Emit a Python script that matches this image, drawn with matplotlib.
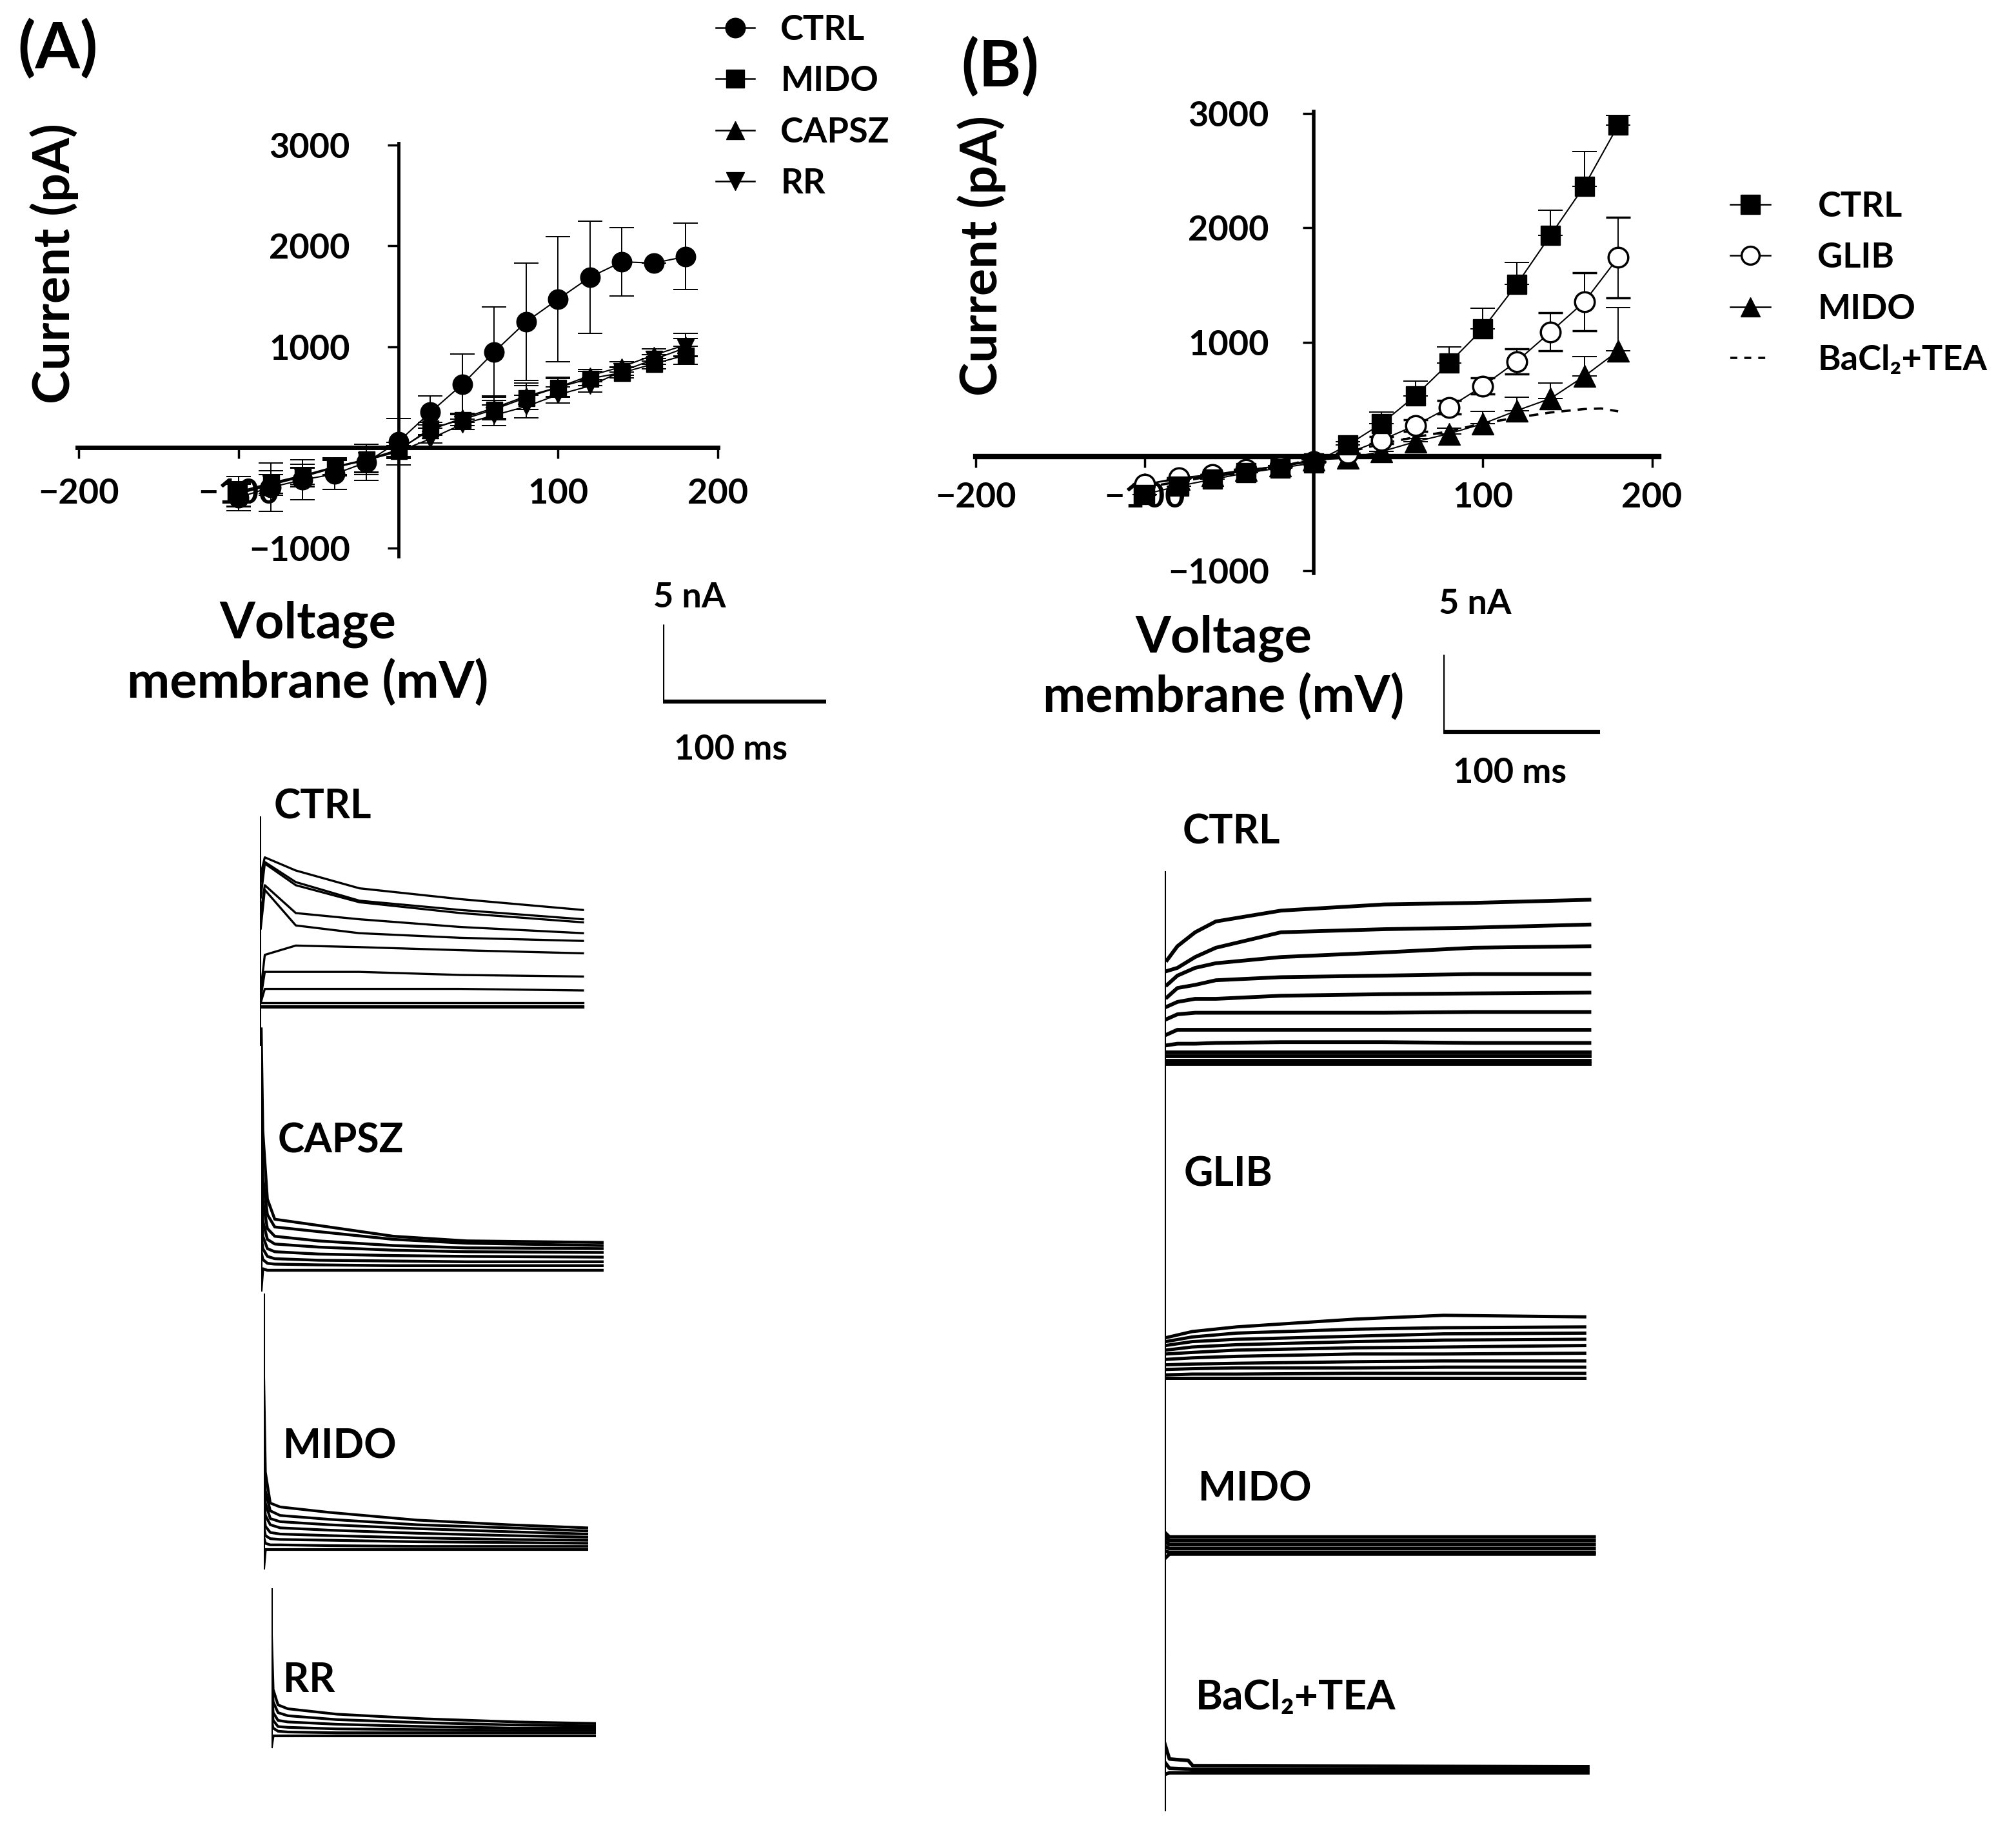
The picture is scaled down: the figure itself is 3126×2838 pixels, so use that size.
import matplotlib
matplotlib.use("Agg")
import matplotlib.pyplot as plt
from matplotlib.lines import Line2D

plt.rcParams['font.family'] = ['Lato', 'DejaVu Sans']
plt.rcParams['font.weight'] = 'bold'

W, H = 3126, 2838

# ---------------- I-V data, panel A (mV, pA)
volt_a = [-100, -80, -60, -40, -20, 0, 20, 40, 60, 80, 100, 120, 140, 160, 180]
ctrl_a = [-495, -394, -320, -262, -146, 58, 350, 627, 948, 1248, 1472, 1691, 1843, 1831, 1895]
ctrl_a_err = [130, 240, 200, 150, 180, 230, 160, 300, 450, 585, 620, 555, 340, 0, 330]
mido_a = [-437, -350, -277, -190, -117, -29, 190, 277, 379, 496, 598, 685, 743, 831, 918]
mido_a_err = [150, 120, 110, 90, 150, 80, 60, 60, 90, 120, 90, 70, 50, 50, 90]
capsz_a = [-460, -370, -290, -200, -120, -20, 175, 292, 394, 510, 598, 714, 802, 918, 1020]
capsz_a_err = [120, 100, 90, 80, 130, 70, 50, 40, 120, 130, 100, 60, 50, 60, 110]
rr_a = [-450, -360, -285, -195, -125, -40, 87, 233, 321, 408, 525, 612, 758, 875, 991]
rr_a_err = [100, 90, 80, 70, 120, 60, 40, 50, 100, 110, 80, 60, 40, 50, 90]

# ---------------- I-V data, panel B
volt_b = [-100, -80, -60, -40, -20, 0, 20, 40, 60, 80, 100, 120, 140, 160, 180]
ctrl_b = [-330, -258, -200, -143, -100, -57, 100, 287, 530, 817, 1117, 1504, 1934, 2364, 2894]
ctrl_b_err = [0, 0, 0, 0, 0, 0, 30, 100, 130, 143, 178, 192, 220, 300, 86]
glib_b = [-244, -186, -158, -115, -86, -43, 29, 143, 272, 430, 616, 831, 1089, 1352, 1739]
glib_b_err = [0, 0, 0, 0, 0, 0, 0, 30, 50, 60, 72, 109, 166, 252, 352]
mido_b = [-240, -200, -165, -120, -80, -30, -14, 43, 129, 200, 287, 401, 507, 702, 923]
mido_b_err = [0, 0, 0, 0, 0, 0, 0, 0, 30, 50, 109, 115, 138, 172, 381]
volt_bacl = [-100, -80, -60, -40, -20, 0, 20, 40, 60, 80, 100, 120, 140, 160, 170, 180]
bacl_b = [-270, -220, -170, -140, -90, -20, 40, 110, 170, 220, 290, 340, 385, 415, 420, 395]

# ---------------- current traces (ms, nA)
a_ctrl_t = [0.5, 3, 22, 61, 123, 198]
a_ctrl_i = [[8.5, 9.6, 8.75, 7.6, 6.9, 6.2],
            [8.0, 9.3, 8.0, 6.8, 6.2, 5.6],
            [7.0, 9.2, 7.8, 6.7, 6.0, 5.4],
            [6.0, 7.8, 6.0, 5.6, 5.1, 4.7],
            [5.0, 7.5, 5.2, 4.7, 4.4, 4.2],
            [1.0, 3.3, 3.9, 3.8, 3.6, 3.4],
            [0.5, 2.2, 2.2, 2.2, 2.0, 1.9],
            [0.2, 1.1, 1.1, 1.1, 1.1, 1.0],
            [0.2, 0.2, 0.2, 0.2, 0.2, 0.2],
            [0.0, 0.0, 0.0, 0.0, 0.0, 0.0],
            [-0.1, -0.1, -0.1, -0.1, -0.1, -0.1]]
a_capsz_t = [0, 1, 3.8, 8.3, 35, 81, 126, 209]
a_capsz_i = [[15.6, 9, 4.6, 3.3, 2.9, 2.2, 1.9, 1.8],
             [10, 6, 3.6, 2.8, 2.5, 2.0, 1.75, 1.6],
             [7, 4.5, 2.7, 2.2, 1.9, 1.6, 1.45, 1.4],
             [5, 3.2, 2.0, 1.7, 1.5, 1.3, 1.2, 1.15],
             [3.5, 2.2, 1.4, 1.2, 1.05, 0.95, 0.9, 0.85],
             [2.2, 1.4, 0.9, 0.75, 0.65, 0.6, 0.55, 0.55],
             [1.2, 0.7, 0.45, 0.4, 0.35, 0.3, 0.3, 0.3],
             [-1.2, 0.1, 0, 0, 0, 0, 0, 0]]
a_mido_t = [0, 1, 4, 10, 40, 94, 150, 198]
a_mido_i = [[11, 5, 3, 2.75, 2.4, 1.9, 1.6, 1.4],
            [7, 3.8, 2.5, 2.2, 1.95, 1.6, 1.4, 1.2],
            [5, 3, 2.0, 1.8, 1.6, 1.35, 1.15, 1.0],
            [3.5, 2.2, 1.6, 1.4, 1.25, 1.05, 0.9, 0.8],
            [2.5, 1.5, 1.1, 1.0, 0.9, 0.75, 0.65, 0.6],
            [1.5, 0.9, 0.7, 0.65, 0.6, 0.5, 0.45, 0.4],
            [0.8, 0.4, 0.3, 0.3, 0.25, 0.2, 0.2, 0.2],
            [-1.2, 0, 0, 0, 0, 0, 0, 0]]
a_rr_t = [0, 1, 4, 10, 40, 94, 150, 198]
a_rr_i = [[6.4, 3, 2.0, 1.75, 1.4, 1.1, 0.9, 0.8],
          [4.5, 2.2, 1.5, 1.3, 1.05, 0.85, 0.7, 0.65],
          [3, 1.5, 1.0, 0.9, 0.75, 0.6, 0.5, 0.5],
          [2, 1.0, 0.6, 0.55, 0.45, 0.4, 0.35, 0.35],
          [1, 0.5, 0.3, 0.25, 0.2, 0.2, 0.2, 0.2],
          [-0.7, 0, 0, 0, 0, 0, 0, 0]]

b_ctrl_t = [1.5, 8.1, 19.4, 32.6, 74.2, 140, 197, 271]
b_ctrl_i = [[6.5, 7.4, 8.3, 9.0, 9.7, 10.1, 10.2, 10.4],
            [5.8, 6.0, 6.7, 7.3, 8.3, 8.5, 8.6, 8.8],
            [4.9, 5.5, 6.0, 6.3, 6.7, 7.0, 7.3, 7.4],
            [4.1, 4.7, 4.9, 5.2, 5.4, 5.5, 5.6, 5.6],
            [3.5, 3.8, 4.0, 4.0, 4.2, 4.3, 4.35, 4.4],
            [2.7, 3.0, 3.1, 3.1, 3.1, 3.1, 3.15, 3.15],
            [1.7, 2.0, 2.0, 2.0, 2.0, 2.0, 2.0, 2.0],
            [1.0, 1.1, 1.1, 1.15, 1.2, 1.2, 1.15, 1.15],
            [0.55, 0.55, 0.55, 0.55, 0.55, 0.55, 0.55, 0.55],
            [0.3, 0.3, 0.3, 0.3, 0.3, 0.3, 0.3, 0.3],
            [0, 0, 0, 0, 0, 0, 0, 0],
            [-0.2, -0.2, -0.2, -0.2, -0.2, -0.2, -0.2, -0.2]]
b_glib_t = [0.6, 17.5, 45.8, 121, 178, 268]
b_glib_i = [[2.6, 3.0, 3.3, 3.8, 4.05, 3.95],
            [2.35, 2.65, 2.9, 3.15, 3.25, 3.3],
            [2.1, 2.35, 2.5, 2.7, 2.85, 2.9],
            [1.8, 2.0, 2.15, 2.35, 2.45, 2.5],
            [1.55, 1.65, 1.8, 1.95, 2.0, 2.1],
            [1.2, 1.3, 1.4, 1.55, 1.55, 1.6],
            [0.85, 0.9, 0.95, 1.05, 1.1, 1.1],
            [0.55, 0.6, 0.65, 0.65, 0.7, 0.7],
            [0.2, 0.25, 0.25, 0.3, 0.3, 0.3],
            [0, 0, 0, 0, 0, 0]]
b_mido_t = [0, 3, 274]
b_mido_i = [[1.4, 1.1, 1.1],
            [1.1, 0.85, 0.85],
            [0.8, 0.6, 0.6],
            [0.5, 0.35, 0.35],
            [0.2, 0.1, 0.1],
            [-0.3, 0, 0]]
b_bacl_t = [0, 3, 15, 18, 270]
b_bacl_i = [[1.8, 0.8, 0.7, 0.35, 0.3],
            [0.6, 0.2, 0.15, 0.1, 0.1],
            [-0.2, -0.1, -0.1, -0.1, -0.1]]

# capacitive transient at step onset: (top, bottom) in nA
a_spikes = [(12.2, -2.5), (15.6, -1.3), (16.5, -1.2), (9.5, -0.7)]
b_spikes = [(12.2, -14.4), (6.1, -6.8), (4.6, -6.3), (7.8, -2.5)]

scale_ms = 100
scale_na = 5

fig = plt.figure(figsize=(W / 100, H / 100), dpi=100)


def px_axes(left, top, right, bottom):
    return fig.add_axes([left / W, 1 - bottom / H, (right - left) / W, (bottom - top) / H])


def ftext(x, y, s, size, ha='left', va='center', **kw):
    fig.text(x / W, 1 - y / H, s, fontsize=size, ha=ha, va=va, fontweight='bold', **kw)


def iv_axes(box, xlim, ylim, xw, yw, ypad, xpad):
    ax = px_axes(*box)
    ax.set_xlim(xlim)
    ax.set_ylim(ylim)
    ax.patch.set_alpha(0)
    ax.spines['top'].set_visible(False)
    ax.spines['right'].set_visible(False)
    ax.spines['left'].set_position(('data', 0))
    ax.spines['bottom'].set_position(('data', 0))
    ax.spines['bottom'].set_linewidth(xw)
    ax.spines['left'].set_linewidth(yw)
    ax.set_xticks([-200, -100, 100, 200])
    ax.set_yticks([-1000, 1000, 2000, 3000])
    ax.tick_params(direction='out', length=12, width=2.5, labelsize=39)
    ax.tick_params(axis='y', pad=ypad)
    ax.tick_params(axis='x', pad=xpad)
    return ax


def trace_axes(x0, y0, px_ms, px_na):
    # x0, y0: figure pixel of t=0, I=0
    tmax, imin, imax = 300, -16, 18
    ax = px_axes(x0, y0 - imax * px_na, x0 + tmax * px_ms, y0 - imin * px_na)
    ax.set_xlim(0, tmax)
    ax.set_ylim(imin, imax)
    ax.axis('off')
    return ax


def draw_traces(ax, t, traces, spike, lw):
    for tr in traces:
        ax.plot(t, tr, color='black', lw=lw, solid_joinstyle='round')
    ax.plot([0, 0], list(spike), color='black', lw=2.2)


# ================= Panel A I-V
axA = iv_axes((120, 222, 1113, 863), (-201, 200), (-1080, 3020), 5, 3.5, 42, 22)
ekw = dict(color='black', lw=1.5, elinewidth=1.4, capsize=14, capthick=1.4,
           zorder=3, clip_on=False)
axA.errorbar(volt_a, mido_a, yerr=mido_a_err, fmt='-s', ms=18, **ekw)
axA.errorbar(volt_a, capsz_a, yerr=capsz_a_err, fmt='-^', ms=19, **ekw)
axA.errorbar(volt_a, rr_a, yerr=rr_a_err, fmt='-v', ms=19, **ekw)
axA.errorbar(volt_a, ctrl_a, yerr=ctrl_a_err, fmt='-o', ms=22, **ekw)

hA = [Line2D([], [], color='black', lw=1.8, marker=m, ms=ms)
      for m, ms in [('o', 22), ('s', 20), ('^', 20), ('v', 20)]]
axA.legend(hA, ['CTRL', 'MIDO', 'CAPSZ', 'RR'], loc='upper left',
           bbox_to_anchor=(1110 / W, 1 - 22 / H), bbox_transform=fig.transFigure,
           frameon=False, fontsize=39, handlelength=1.1, handletextpad=0.75,
           labelspacing=0.56, borderpad=0, borderaxespad=0)

# ================= Panel B I-V
axB = iv_axes((1513, 173, 2572, 889), (-200, 204), (-1020, 3015), 6, 4, 38, 16)
axB.plot(volt_bacl, bacl_b, color='black', lw=2.6, ls=(0, (4, 3)), zorder=3)
axB.errorbar(volt_b, mido_b, yerr=[[0] * len(mido_b_err), mido_b_err], fmt='-^', ms=24, **ekw)
axB.errorbar(volt_b, glib_b, yerr=glib_b_err, fmt='-o', ms=22, mfc='white', mew=2.5, **ekw)
axB.errorbar(volt_b, ctrl_b, yerr=[[0] * len(ctrl_b_err), ctrl_b_err], fmt='-s', ms=22, **ekw)

hB = [Line2D([], [], color='black', lw=1.8, marker='s', ms=22),
      Line2D([], [], color='black', lw=1.8, marker='o', ms=20, mfc='white', mew=2.5),
      Line2D([], [], color='black', lw=1.8, marker='^', ms=22),
      Line2D([], [], color='black', lw=2.6, ls=(0, (3, 3)))]
axB.legend(hB, ['CTRL', 'GLIB', 'MIDO', 'BaCl₂+TEA'], loc='upper left',
           bbox_to_anchor=(2683 / W, 1 - 296 / H), bbox_transform=fig.transFigure,
           frameon=False, fontsize=39, handlelength=1.15, handletextpad=1.35,
           labelspacing=0.56, borderpad=0, borderaxespad=0)

# ================= axis titles and panel letters
ftext(90, 76, '(A)', 72, ha='center')
ftext(1551, 104, '(B)', 72, ha='center')
ftext(84, 409, 'Current (pA)', 57, ha='center', rotation=90)
ftext(1522, 397, 'Current (pA)', 57, ha='center', rotation=90)
ftext(477, 1014, 'Voltage\nmembrane (mV)', 57, ha='center', linespacing=1.3)
ftext(1897, 1036, 'Voltage\nmembrane (mV)', 57, ha='center', linespacing=1.3)

# ================= traces, panel A
pxA_ms, px_na = 2.53, 24.0
pxB_ms = 2.43
tr = trace_axes(403, 1560, pxA_ms, px_na)
draw_traces(tr, a_ctrl_t, a_ctrl_i, a_spikes[0], 2.4)
tr = trace_axes(405, 1970, pxA_ms, px_na)
draw_traces(tr, a_capsz_t, a_capsz_i, a_spikes[1], 3.2)
tr = trace_axes(409, 2403, pxA_ms, px_na)
draw_traces(tr, a_mido_t, a_mido_i, a_spikes[2], 3.0)
tr = trace_axes(421, 2692, pxA_ms, px_na)
draw_traces(tr, a_rr_t, a_rr_i, a_spikes[3], 3.0)

# ================= traces, panel B
tr = trace_axes(1806, 1645, pxB_ms, px_na)
draw_traces(tr, b_ctrl_t, b_ctrl_i, b_spikes[0], 4.2)
tr = trace_axes(1806, 2137, pxB_ms, px_na)
draw_traces(tr, b_glib_t, b_glib_i, b_spikes[1], 3.6)
tr = trace_axes(1806, 2410, pxB_ms, px_na)
draw_traces(tr, b_mido_t, b_mido_i, b_spikes[2], 4.0)
tr = trace_axes(1806, 2747, pxB_ms, px_na)
draw_traces(tr, b_bacl_t, b_bacl_i, b_spikes[3], 4.0)

# ================= scale bars
for x0, y0, pxm in [(1028, 1088, pxA_ms), (2238, 1135, pxB_ms)]:
    sb = trace_axes(x0, y0, pxm, px_na)
    sb.plot([0, 0], [0, scale_na], color='black', lw=2.4, solid_capstyle='butt')
    sb.plot([0, scale_ms], [0, 0], color='black', lw=4.5, solid_capstyle='butt')

ftext(1013, 926, '5 nA', 39)
ftext(1045, 1163, '100 ms', 39)
ftext(2231, 936, '5 nA', 39)
ftext(2253, 1198, '100 ms', 39)

# ================= trace labels
ftext(425, 1252, 'CTRL', 45)
ftext(431, 1769, 'CAPSZ', 45)
ftext(439, 2244, 'MIDO', 45)
ftext(439, 2606, 'RR', 45)
ftext(1834, 1290, 'CTRL', 45)
ftext(1836, 1821, 'GLIB', 45)
ftext(1858, 2310, 'MIDO', 45)
ftext(1854, 2632, 'BaCl₂+TEA', 46)

fig.savefig('out.png', dpi=100, facecolor='white')
